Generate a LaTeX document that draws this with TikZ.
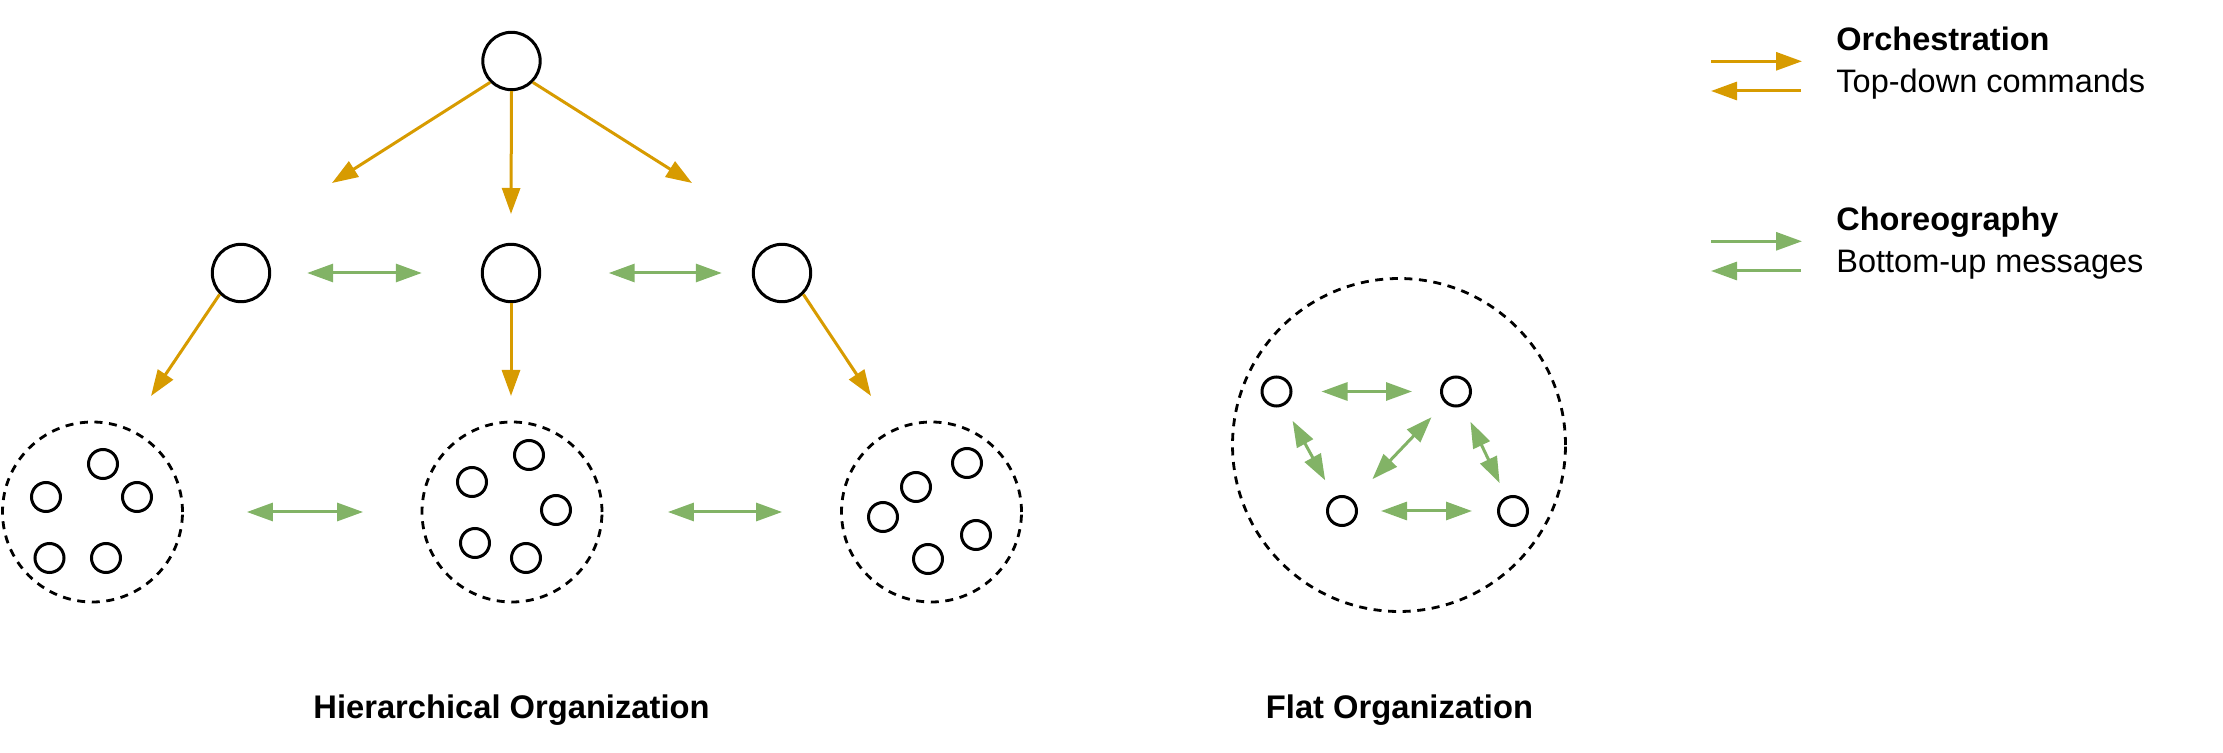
\documentclass[tikz,border=0pt]{standalone}
\usepackage{fontspec}
\setmainfont{Liberation Sans}
\usetikzlibrary{arrows.meta}
\definecolor{orch}{HTML}{D79B00}
\definecolor{chor}{HTML}{82B366}
\begin{document}
\begin{tikzpicture}[x=0.5pt,y=-0.5pt,
  >={Triangle[length=13pt,width=9pt]},
  agent/.style={circle,draw=black,line width=1.5pt,minimum size=28.7pt,inner sep=0pt},
  member/.style={circle,draw=black,line width=1.5pt,minimum size=14.5pt,inner sep=0pt},
  group/.style={circle,draw=black,line width=1.4pt,dash pattern=on 4pt off 3.3pt,minimum size=90pt,inner sep=0pt},
  flatgroup/.style={group,minimum size=166.5pt},
  orcharrow/.style={draw=orch,line width=1.5pt,->},
  chorarrow/.style={draw=chor,line width=1.5pt,<->},
  chorone/.style={draw=chor,line width=1.5pt,->},
  titletext/.style={inner sep=0pt,anchor=base,font=\bfseries\fontsize{16.35}{20}\selectfont},
  legtext/.style={inner sep=0pt,anchor=base west,font=\fontsize{16.25}{20}\selectfont},
  legbold/.style={inner sep=0pt,anchor=base west,font=\bfseries\fontsize{16.25}{20}\selectfont}
]
\useasboundingbox (0,0) rectangle (2223,753);

% hierarchical agents
\node[agent] (top) at (511.5,61) {};
\node[agent] (m1) at (241,273) {};
\node[agent] (m2) at (511,273) {};
\node[agent] (m3) at (782,273) {};

\coordinate (t1) at (332,183);
\coordinate (t2) at (511,214);
\coordinate (t3) at (692,183);
\draw[orcharrow] (top.south west) -- (t1);
\draw[orcharrow] (top.south) -- (t2);
\draw[orcharrow] (top.south east) -- (t3);

\coordinate (b1) at (151,396);
\coordinate (b2) at (511,396);
\coordinate (b3) at (871,396);
\draw[orcharrow] (m1.south west) -- (b1);
\draw[orcharrow] (m2.south) -- (b2);
\draw[orcharrow] (m3.south east) -- (b3);

\draw[chorarrow,shorten <=18pt,shorten >=29.5pt] (m1) -- (m2);
\draw[chorarrow,shorten <=33.75pt,shorten >=15pt] (m2) -- (m3);

% clusters
\node[group] (g1) at (92.5,512) {};
\node[group] (g2) at (512,512) {};
\node[group] (g3) at (931.5,512) {};

\node[member] (g1a) at (103,464) {};
\node[member] (g1b) at (46,497) {};
\node[member] (g1c) at (137,497) {};
\node[member] (g1d) at (49.5,558) {};
\node[member] (g1e) at (106,558) {};

\node[member] (g2a) at (529,455) {};
\node[member] (g2b) at (472,482) {};
\node[member] (g2c) at (556,510) {};
\node[member] (g2d) at (475,543) {};
\node[member] (g2e) at (526,558) {};

\node[member] (g3a) at (967,463) {};
\node[member] (g3b) at (916,487) {};
\node[member] (g3c) at (883,517) {};
\node[member] (g3d) at (976,535) {};
\node[member] (g3e) at (928,559) {};

\draw[chorarrow,shorten <=31.5pt,shorten >=28.75pt] (g1) -- (g2);
\draw[chorarrow,shorten <=32.25pt,shorten >=29pt] (g2) -- (g3);

% flat organization
\node[flatgroup] (fg) at (1399,445) {};
\node[member] (f1) at (1276.5,391.5) {};
\node[member] (f2) at (1456,391.5) {};
\node[member] (f3) at (1342,511) {};
\node[member] (f4) at (1513,511) {};

\draw[chorarrow,shorten <=14.5pt,shorten >=14pt] (f1) -- (f2);
\draw[chorarrow,shorten <=8.75pt,shorten >=9.5pt] (f1) -- (f3);
\draw[chorarrow,shorten <=9.75pt,shorten >=14pt] (f2) -- (f3);
\draw[chorarrow,shorten <=8.75pt,shorten >=7.5pt] (f2) -- (f4);
\draw[chorarrow,shorten <=11.5pt,shorten >=12.5pt] (f3) -- (f4);

% titles
\node[titletext] (hl) at (511.5,718) {Hierarchical Organization};
\node[titletext] (fl) at (1399.5,718) {Flat Organization};

% legend
\coordinate (lo1s) at (1711,61.3);
\coordinate (lo1e) at (1802,61.3);
\coordinate (lo2s) at (1801,91);
\coordinate (lo2e) at (1711,91);
\draw[orcharrow] (lo1s) -- (lo1e);
\draw[orcharrow] (lo2s) -- (lo2e);
\node[legbold] (lt1) at (1836,50.7) {Orchestration};
\node[legtext] (lt2) at (1836,92.3) {Top-down commands};

\coordinate (lc1s) at (1711,241.3);
\coordinate (lc1e) at (1802,241.3);
\coordinate (lc2s) at (1801,271);
\coordinate (lc2e) at (1711,271);
\draw[chorone] (lc1s) -- (lc1e);
\draw[chorone] (lc2s) -- (lc2e);
\node[legbold] (lt3) at (1836,230.7) {Choreography};
\node[legtext] (lt4) at (1836,272.3) {Bottom-up messages};
\end{tikzpicture}
\end{document}
